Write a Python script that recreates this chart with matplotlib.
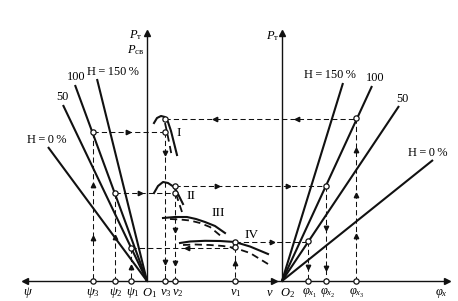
import matplotlib.pyplot as plt

plt.rcParams['font.family'] = ['Liberation Serif', 'DejaVu Serif']
plt.rcParams['mathtext.fontset'] = 'custom'
plt.rcParams['mathtext.rm'] = 'Liberation Serif'
plt.rcParams['mathtext.it'] = 'Liberation Serif:italic'
plt.rcParams['mathtext.bf'] = 'Liberation Serif:bold'

# diagram coordinates (pixel grid of the reference, y downwards)
BASE_Y = 281
O1_X = 147
O2_X = 282
AXIS_TOP = 33

# characteristic lines, tips of the rays from O1 / O2
H_LABELS = ['H\u2009=\u20090\u2009%', '50', '100', 'H\u2009=\u2009150\u2009%']
LEFT_TIPS = [(48, 147), (63, 105), (75, 85), (97, 79)]
LEFT_LABEL_POS = [(47, 140), (62, 97), (76, 77), (113, 72)]
RIGHT_TIPS = [(433, 160), (399, 106), (372, 86), (343, 83)]
RIGHT_LABEL_POS = [(428, 153), (402, 99), (375, 78), (330, 75)]

# speed characteristics I..IV (solid and dashed)
CURVE_NAMES = ['I', 'II', 'III', 'IV']
CURVE_LABEL_POS = [(179, 133), (191, 196), (218, 213), (252, 235)]
SOLID_CURVES = [
    [(154, 123), (157, 118), (161, 116), (165, 117), (168, 122), (171, 131), (174, 143), (177, 155)],
    [(154, 193), (158, 186), (163, 182), (168, 183), (174, 187), (178, 194), (181, 200), (183, 204)],
    [(163, 218), (175, 217), (187, 217), (196, 219), (205, 222), (215, 226), (225, 233)],
    [(180, 243), (190, 241.5), (205, 240.8), (220, 241), (235, 242), (250, 246.5), (268, 254)],
]
DASHED_CURVES = [
    [(165, 123), (167, 132), (169, 142), (172, 157)],
    [(176, 194), (178, 200), (180, 206), (182, 212)],
    [(170, 219), (180, 219.5), (190, 220.5), (200, 223), (210, 227), (222, 237)],
    [(183, 245), (195, 244.5), (210, 245), (223, 246), (235, 248), (250, 253), (268, 264)],
]

# construction points (open circles)
POINTS = [(93, 132), (115, 193), (131, 248), (165, 119), (165, 132), (175, 186), (175, 193),
          (235, 242), (235, 247), (308, 241), (326, 186), (356, 118),
          (93, BASE_Y), (115, BASE_Y), (131, BASE_Y), (165, BASE_Y), (175, BASE_Y),
          (235, BASE_Y), (308, BASE_Y), (326, BASE_Y), (356, BASE_Y)]

# dashed horizontal guides: (y, x0, x1, arrow x list, direction)
H_GUIDES = [(118.5, 165, 356, [215, 297], '<'),
            (132, 93, 165, [128], '>'),
            (186, 175, 326, [217, 288], '>'),
            (193, 115, 175, [140], '>'),
            (242, 235, 308, [272], '>'),
            (248, 131, 235, [187], '<')]
# dashed vertical guides: (x, y0, arrow y list, direction)
V_GUIDES = [(93, 132, [185, 238], '^'),
            (115, 193, [237], '^'),
            (131, 248, [267], '^'),
            (165, 132, [153, 262], 'v'),
            (175, 193, [230, 263], 'v'),
            (235, 247, [263], '^'),
            (308, 241, [267], 'v'),
            (326, 186, [228, 268], 'v'),
            (356, 118, [150, 195, 236], '^')]

BOTTOM_LABELS = [r'$\psi$', r'$\psi_3$', r'$\psi_2$', r'$\psi_1$', r'$O_1$', r'$v_3$', r'$v_2$',
                 r'$v_1$', r'$v$', r'$O_2$', r'$\varphi_{x_1}$', r'$\varphi_{x_2}$',
                 r'$\varphi_{x_3}$', r'$\varphi_x$']
BOTTOM_X = [28, 93, 116, 133, 149, 166, 178, 236, 270, 287, 310, 328, 357, 441]

fig = plt.figure(figsize=(4.58, 3.01), dpi=100)
ax = fig.add_axes([0, 0, 1, 1])
ax.set_xlim(0, 458)
ax.set_ylim(301, 0)
ax.axis('off')

k = '#111111'
dash = dict(color=k, lw=0.75, dashes=(5, 3))

# axes
ax.plot([27, 447], [BASE_Y, BASE_Y], color=k, lw=1.0)
ax.plot([O1_X, O1_X], [BASE_Y, AXIS_TOP + 3], color=k, lw=1.0)
ax.plot([O2_X, O2_X], [BASE_Y, AXIS_TOP + 3], color=k, lw=1.0)
ax.plot([25], [BASE_Y], marker='<', ms=5, color=k)
ax.plot([447], [BASE_Y], marker='>', ms=5, color=k)
ax.plot([274], [BASE_Y], marker='>', ms=5, color=k)
ax.plot([O1_X, O2_X], [AXIS_TOP, AXIS_TOP], ls='none', marker='^', ms=5, color=k)

# rays
for tip in LEFT_TIPS:
    ax.plot([O1_X, tip[0]], [BASE_Y, tip[1]], color=k, lw=1.5, solid_capstyle='butt')
for tip in RIGHT_TIPS:
    ax.plot([O2_X, tip[0]], [BASE_Y, tip[1]], color=k, lw=1.5, solid_capstyle='butt')
for lab, pos in zip(H_LABELS, LEFT_LABEL_POS):
    ax.text(pos[0], pos[1], lab, fontsize=8.8, ha='center', va='center')
for lab, pos in zip(H_LABELS, RIGHT_LABEL_POS):
    ax.text(pos[0], pos[1], lab, fontsize=8.8, ha='center', va='center')

# curves
for pts in SOLID_CURVES:
    ax.plot([p[0] for p in pts], [p[1] for p in pts], color=k, lw=1.5)
for pts in DASHED_CURVES:
    ax.plot([p[0] for p in pts], [p[1] for p in pts], color=k, lw=1.3, dashes=(4, 2.5))
for name, pos in zip(CURVE_NAMES, CURVE_LABEL_POS):
    ax.text(pos[0], pos[1], name, fontsize=9.5, ha='center', va='center')

# guides
for y, x0, x1, arrows, d in H_GUIDES:
    ax.plot([x0, x1], [y, y], **dash)
    ax.plot(arrows, [y] * len(arrows), ls='none', marker=d, ms=3.2, color=k)
for x, y0, arrows, d in V_GUIDES:
    ax.plot([x, x], [y0, BASE_Y], **dash)
    ax.plot([x] * len(arrows), arrows, ls='none', marker=d, ms=3.2, color=k)

ax.plot([p[0] for p in POINTS], [p[1] for p in POINTS], ls='none', marker='o', ms=3.8,
        mfc='white', mec=k, mew=0.9, zorder=5)

for lab, x in zip(BOTTOM_LABELS, BOTTOM_X):
    ax.text(x, 293, lab, fontsize=9, ha='center', va='center')

ax.text(136, 35, r'$P_{\mathrm{т}}$', fontsize=9, ha='center', va='center')
ax.text(136, 50, r'$P_{\mathrm{св}}$', fontsize=9, ha='center', va='center')
ax.text(273, 36, r'$P_{\mathrm{т}}$', fontsize=9, ha='center', va='center')

fig.savefig('out.png', dpi=100)
